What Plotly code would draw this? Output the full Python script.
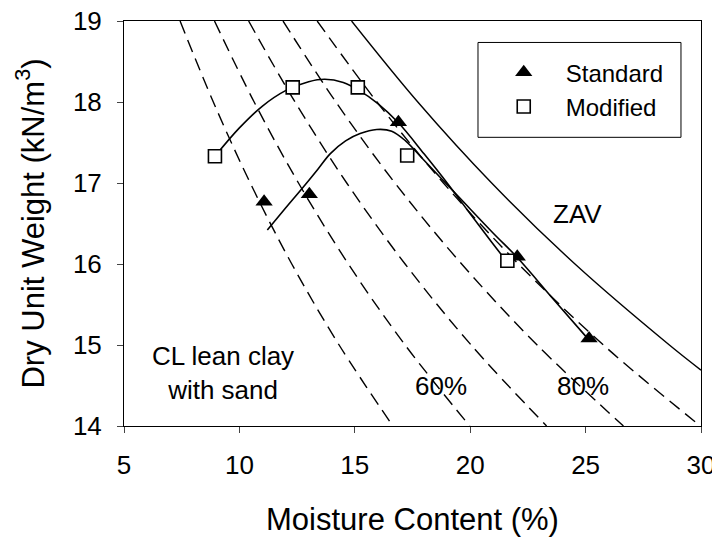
import plotly.graph_objects as go

# compaction test points (moisture %, dry unit weight kN/m3)
std_w = [11.07, 13.03, 16.89, 22.04, 25.15]
std_gd = [16.77, 16.86, 17.75, 16.09, 15.08]
mod_w = [8.94, 12.31, 15.13, 17.27, 21.61]
mod_gd = [17.33, 18.18, 18.18, 17.34, 16.04]

# fitted compaction curves
std_fit_w = [11.21, 12.0, 12.77, 13.4, 13.93, 14.6, 15.23, 15.95, 16.6, 17.2, 18.0, 19.5, 21.0, 22.04, 23.5, 25.15]
std_fit_gd = [16.42, 16.69, 16.95, 17.17, 17.36, 17.52, 17.61, 17.66, 17.64, 17.52, 17.28, 16.83, 16.38, 16.08, 15.6, 15.06]
mod_fit_w = [8.94, 10.0, 11.0, 12.0, 13.0, 13.7, 14.5, 15.2, 16.0, 16.9, 18.0, 19.0, 20.0, 20.9, 21.61]
mod_fit_gd = [17.33, 17.68, 17.95, 18.14, 18.25, 18.28, 18.24, 18.14, 17.98, 17.74, 17.36, 17.0, 16.62, 16.28, 16.02]

# degree-of-saturation lines: moisture content at each dry unit weight
sat_gd = [19, 18, 17, 16, 15, 14]
sat_lines = {
    "50%": [7.43, 8.87, 10.47, 12.27, 14.32, 16.65],
    "60%": [8.92, 10.64, 12.56, 14.72, 17.18, 19.98],
    "70%": [10.40, 12.41, 14.65, 17.18, 20.04, 23.31],
    "80%": [11.89, 14.18, 16.74, 19.63, 22.90, 26.64],
    "90%": [13.37, 15.96, 18.84, 22.09, 25.77, 29.97],
}
zav_w = [14.86, 17.73, 20.93, 24.54, 28.63, 30.0]
zav_gd = [19, 18, 17, 16, 15, 14.69]

# text labels inside the plot
labels = ["ZAV", "60%", "80%", "CL lean clay<br>with sand"]
label_x = [24.64, 18.72, 24.87, 9.28]
label_y = [16.62, 14.50, 14.50, 14.66]

FONT = "Arial, Liberation Sans, sans-serif"

fig = go.Figure()

for name, w in sat_lines.items():
    fig.add_trace(go.Scatter(
        x=w, y=sat_gd, mode="lines", line=dict(color="black", width=1.4, dash="13px,7px", shape="spline"),
        showlegend=False, hoverinfo="skip"))

fig.add_trace(go.Scatter(
    x=zav_w, y=zav_gd, mode="lines", line=dict(color="black", width=1.4, shape="spline"),
    showlegend=False, hoverinfo="skip"))

fig.add_trace(go.Scatter(
    x=mod_fit_w, y=mod_fit_gd, mode="lines", line=dict(color="black", width=1.6, shape="spline"),
    showlegend=False, hoverinfo="skip"))
fig.add_trace(go.Scatter(
    x=std_fit_w, y=std_fit_gd, mode="lines", line=dict(color="black", width=1.6, shape="spline"),
    showlegend=False, hoverinfo="skip"))

fig.add_trace(go.Scatter(
    x=std_w, y=std_gd, mode="markers", name="Standard",
    marker=dict(symbol="triangle-up", size=15, color="black", line=dict(width=0))))
fig.add_trace(go.Scatter(
    x=mod_w, y=mod_gd, mode="markers", name="Modified",
    marker=dict(symbol="square", size=13, color="white", line=dict(color="black", width=1.6))))

for t, x, y in zip(labels, label_x, label_y):
    fig.add_annotation(x=x, y=y, text=t, showarrow=False, font=dict(size=26, color="black", family=FONT))

# legend box
fig.add_shape(type="rect", xref="paper", yref="paper", x0=0.6135, x1=0.9653, y0=0.7128, y1=0.947,
              line=dict(color="black", width=1), fillcolor="white", layer="below")

# page body adds 8px, so the figure is 8px smaller than the window
fig.update_layout(
    width=712, height=534,
    margin=dict(l=116, r=19, t=13, b=116, autoexpand=False),
    paper_bgcolor="white", plot_bgcolor="white",
    font=dict(family=FONT, size=26, color="black"),
    legend=dict(x=0.620, y=0.928, xanchor="left", yanchor="top", bgcolor="rgba(0,0,0,0)",
                font=dict(size=24), itemwidth=74, tracegroupgap=0),
    xaxis=dict(range=[5, 30], tickvals=[5, 10, 15, 20, 25, 30], ticks="outside", ticklen=6,
               ticklabelstandoff=10, ticklabeloverflow="allow",
               showline=True, linecolor="black", linewidth=1, mirror=True, showgrid=False, zeroline=False,
               automargin=False, title=dict(text="Moisture Content (%)", standoff=29)),
    yaxis=dict(range=[14, 19], tickvals=[14, 15, 16, 17, 18, 19], ticks="outside", ticklen=6,
               ticklabelstandoff=10, ticklabeloverflow="allow",
               showline=True, linecolor="black", linewidth=1, mirror=True, showgrid=False, zeroline=False,
               automargin=False, title=dict(text="Dry Unit Weight (kN/m<sup>3</sup>)", standoff=19)),
)

fig.write_html("out.html")
